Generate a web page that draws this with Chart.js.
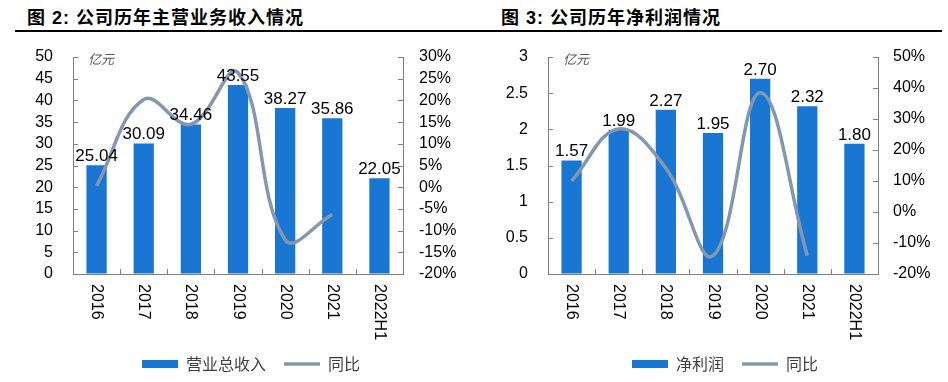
<!DOCTYPE html>
<html><head><meta charset="utf-8">
<script src="https://cdn.jsdelivr.net/npm/chart.js@4/dist/chart.umd.min.js"></script>
<style>
body{margin:0;background:#fff;width:948px;height:382px;overflow:hidden;position:relative;font-family:"Liberation Sans","Noto Sans CJK SC",sans-serif;}
.title{position:absolute;top:3px;font-size:18px;font-weight:bold;color:#000;letter-spacing:1px;white-space:nowrap;font-family:"Liberation Sans","Noto Sans CJK SC",sans-serif}
.rule{position:absolute;left:15px;top:30px;width:927px;height:2px;background:#000}
.wrap{position:absolute;top:40px;width:474px;height:342px}
canvas{display:block}
</style></head><body>
<div class="title" style="left:27px">图 2: 公司历年主营业务收入情况</div>
<div class="title" style="left:501px">图 3: 公司历年净利润情况</div>
<div class="rule"></div>
<div class="wrap" style="left:0"><canvas id="c1" width="474" height="342"></canvas></div>
<div class="wrap" style="left:474px"><canvas id="c2" width="474" height="342"></canvas></div>
<script>
const years = ['2016','2017','2018','2019','2020','2021','2022H1'];
const revenue = [25.04,30.09,34.46,43.55,38.27,35.86,22.05];
const revenueYoY = [0.3,20.2,14.5,26.4,-12.1,-6.3,null];
const netProfit = [1.57,1.99,2.27,1.95,2.70,2.32,1.80];
const profitYoY = [10.0,26.8,14.1,-14.1,38.5,-14.1,null];
const revenueTicks = [0,5,10,15,20,25,30,35,40,45,50];
const revenueYoYTicks = [-20,-15,-10,-5,0,5,10,15,20,25,30];
const profitTicks = [0,0.5,1,1.5,2,2.5,3];
const profitYoYTicks = [-20,-10,0,10,20,30,40,50];

const BAR = '#1976D2';
const LINE = '#8497B0';
const AXIS = '#808080';
const FONT = '"Liberation Sans", Arial, sans-serif';

const decor = {
  id: 'decor',
  afterDatasetsDraw(chart, args, opts) {
    const ctx = chart.ctx;
    const x = chart.scales.x, y = chart.scales.y, y2 = chart.scales.y2;
    const area = chart.chartArea;
    ctx.save();
    ctx.strokeStyle = AXIS; ctx.lineWidth = 1;
    ctx.beginPath();
    y.ticks.forEach(t => { const py = Math.round(y.getPixelForValue(t.value)) + 0.5; ctx.moveTo(area.left, py); ctx.lineTo(area.left + 5, py); });
    y2.ticks.forEach(t => { const py = Math.round(y2.getPixelForValue(t.value)) + 0.5; ctx.moveTo(area.right - 5, py); ctx.lineTo(area.right, py); });
    const n = chart.data.labels.length;
    for (let i = 0; i < n - 1; i++) {
      const px = Math.round((x.getPixelForValue(i) + x.getPixelForValue(i + 1)) / 2) + 0.5;
      ctx.moveTo(px, area.bottom); ctx.lineTo(px, area.bottom - 5);
    }
    ctx.stroke();
    // data labels
    const meta = chart.getDatasetMeta(0);
    const vals = chart.data.datasets[0].data;
    ctx.fillStyle = '#000'; ctx.font = '17px ' + FONT; ctx.textAlign = 'center'; ctx.textBaseline = 'alphabetic';
    meta.data.forEach((bar, i) => { ctx.fillText(vals[i].toFixed(2), bar.x, bar.y - 4); });
    // rotated x labels (clockwise)
    ctx.font = '16px ' + FONT; ctx.textAlign = 'left'; ctx.textBaseline = 'middle'; ctx.fillStyle = '#000';
    chart.data.labels.forEach((lab, i) => {
      const px = x.getPixelForValue(i);
      ctx.save(); ctx.translate(px, area.bottom + 10); ctx.rotate(Math.PI / 2); ctx.fillText(lab, 0, 0); ctx.restore();
    });
    // unit
    ctx.font = 'italic 13px "Noto Sans CJK SC", sans-serif'; ctx.fillStyle = '#595959'; ctx.textAlign = 'left'; ctx.textBaseline = 'middle';
    ctx.fillText('亿元', area.left + 15, area.top + 2);
    ctx.restore();
  }
};

const hiddenTicks = (len) => ({ display: true, drawOnChartArea: false, drawTicks: true, tickLength: len, color: 'rgba(0,0,0,0)' });

function makeChart(id, barLabel, barData, yoyData, leftTicks, rightTicks, leftW, rightW, leftPad, rightPad, leftFmt) {
  return new Chart(document.getElementById(id), {
    data: {
      labels: years,
      datasets: [
        { type: 'bar', label: barLabel, data: barData, backgroundColor: BAR, borderWidth: 0,
          categoryPercentage: 1, barPercentage: 0.43, yAxisID: 'y', order: 1, pointStyle: 'rect' },
        { type: 'line', label: '同比', data: yoyData, borderColor: LINE, backgroundColor: LINE, borderWidth: 3.5,
          pointRadius: 0, tension: 0.4, yAxisID: 'y2', order: 0, pointStyle: 'line', spanGaps: false }
      ]
    },
    options: {
      responsive: false, animation: false,
      layout: { padding: { top: 17, left: 28, right: 0, bottom: 0 } },
      plugins: {
        tooltip: { enabled: false },
        legend: { position: 'bottom',
          labels: { usePointStyle: true, pointStyleWidth: 36, boxHeight: 8, padding: 18, color: '#404040',
            sort: (a, b) => a.datasetIndex - b.datasetIndex,
            font: { size: 16, family: '"Noto Sans CJK SC", sans-serif' } } }
      },
      scales: {
        x: { type: 'category', offset: true, grid: { display: false },
          border: { display: true, color: AXIS, width: 1 },
          ticks: { display: false },
          afterFit(s) { s.height = 64; } },
        y: { position: 'left', min: leftTicks[0], max: leftTicks[leftTicks.length - 1],
          grid: hiddenTicks(leftPad), border: { display: true, color: AXIS, width: 1 },
          afterBuildTicks(s) { s.ticks = leftTicks.map(v => ({ value: v })); },
          ticks: { autoSkip: false, padding: 0, color: '#000', font: { size: 16, family: FONT }, callback: v => leftFmt(v) },
          afterFit(s) { s.width = leftW; } },
        y2: { position: 'right', min: rightTicks[0], max: rightTicks[rightTicks.length - 1],
          grid: hiddenTicks(rightPad), border: { display: true, color: AXIS, width: 1 },
          afterBuildTicks(s) { s.ticks = rightTicks.map(v => ({ value: v })); },
          ticks: { autoSkip: false, padding: 0, color: '#000', font: { size: 16, family: FONT }, callback: v => v + '%' },
          afterFit(s) { s.width = rightW; } }
      }
    },
    plugins: [decor]
  });
}

makeChart('c1', '营业总收入', revenue, revenueYoY, revenueTicks, revenueYoYTicks, 45, 71, 20, 16, v => String(v));
makeChart('c2', '净利润', netProfit, profitYoY, profitTicks, profitYoYTicks, 46, 70, 20, 15, v => String(v));
</script>
</body></html>
